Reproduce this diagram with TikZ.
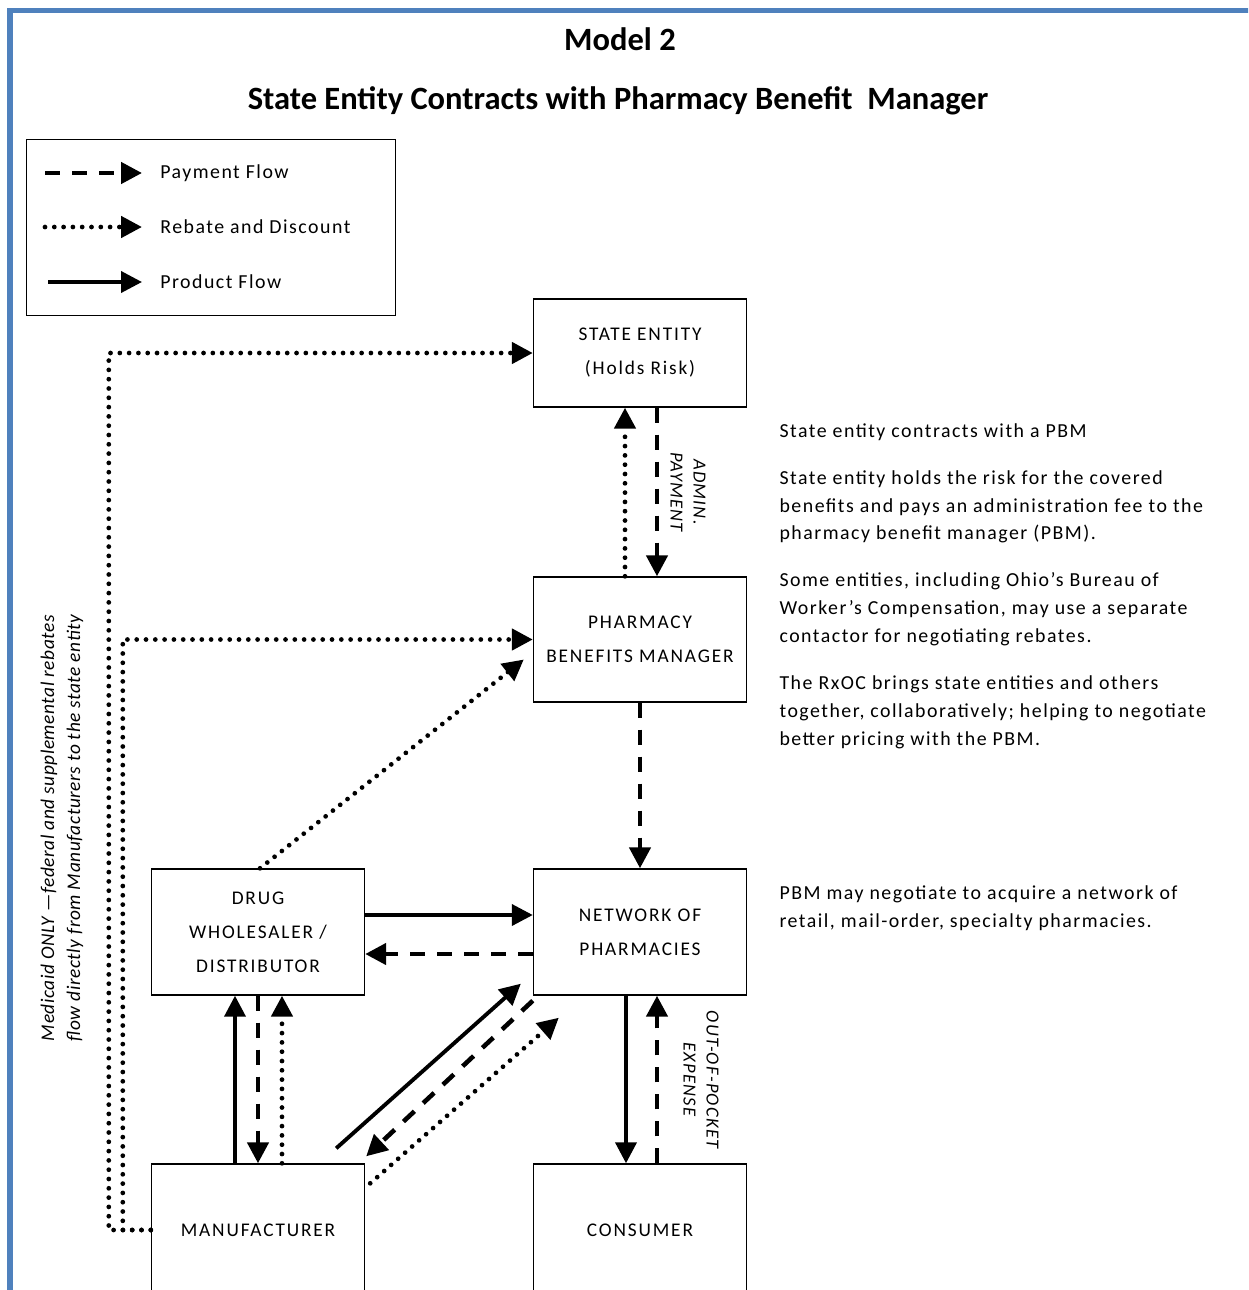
\documentclass[tikz,border=0pt]{standalone}
\usepackage{fontspec}
\setmainfont{Carlito}
\newfontfamily\notefont[LetterSpace=7.5]{Carlito}
\newfontfamily\boxfont[LetterSpace=9.5]{Carlito}
\newfontfamily\sidefont[LetterSpace=3]{Carlito}
\newfontfamily\flowfont[LetterSpace=7]{Carlito}
\usetikzlibrary{arrows.meta}
\definecolor{frameblue}{HTML}{4F81BD}

\tikzset{box/.style={draw, line width=0.8pt, minimum width=4.26cm, align=center, inner sep=1mm, font=\boxfont\fontsize{11}{19.3}\selectfont},
    note/.style={align=left, inner sep=0, font=\notefont\fontsize{11.3}{15.9}\selectfont},
    flowlabel/.style={align=center, inner sep=0, font=\flowfont\itshape\fontsize{10.5}{13}\selectfont},
    pay/.style={line width=2.6pt, dash pattern=on 0.3cm off 0.24cm, -{Triangle[length=0.42cm, width=0.42cm]}},
    rebate/.style={line width=2.7pt, line cap=round, dash pattern=on 0pt off 0.186cm, -{Triangle[length=0.42cm, width=0.42cm]}},
    product/.style={line width=2.2pt, -{Triangle[length=0.42cm, width=0.42cm]}}}

\begin{document}
\begin{tikzpicture}[]
    \clip (0,0) rectangle (24.96,-25.8);
    \draw[frameblue, line width=0.1cm] (0.2,-26) -- (0.2,-0.2) -- (25.2,-0.2);

    \node[font=\bfseries\fontsize{18.5}{22}\selectfont] (title) at (12.4,-0.78) {Model 2};
    \node[font=\bfseries\fontsize{18.5}{22}\selectfont] (subtitle) at (12.36,-2.02) {State Entity Contracts with Pharmacy Benefit\ \ Manager};

    \node[draw, line width=0.8pt, minimum width=7.38cm, minimum height=3.52cm, anchor=north west] (legend) at (0.52,-2.78) {};
    \node[note, anchor=west] (lpay) at ([xshift=2.68cm, yshift=-0.68cm] legend.north west) {Payment Flow};
    \node[note, anchor=west] (lrebate) at ([yshift=-1.08cm] lpay.west) {Rebate and Discount};
    \node[note, anchor=west] (lproduct) at ([yshift=-1.1cm] lrebate.west) {Product Flow};
    \draw[pay] ([xshift=-2.3cm]lpay.west) -- ([xshift=-0.36cm]lpay.west);
    \draw[rebate] ([xshift=-2.3cm]lrebate.west) -- ([xshift=-0.36cm]lrebate.west);
    \draw[product] ([xshift=-2.24cm]lproduct.west) -- ([xshift=-0.36cm]lproduct.west);

    \node[box, minimum height=2.16cm] (state) at (12.8,-7.06) {STATE ENTITY\\(Holds Risk)};
    \node[box, minimum height=2.5cm] (pbm) at ([yshift=-5.73cm] state) {PHARMACY\\BENEFITS MANAGER};
    \node[box, minimum height=2.52cm] (network) at ([yshift=-5.85cm] pbm) {NETWORK OF\\PHARMACIES};
    \node[box, minimum height=2.52cm] (wholesaler) at ([xshift=-7.64cm] network) {DRUG\\WHOLESALER /\\DISTRIBUTOR};
    \node[box, minimum height=2.64cm] (maker) at ([yshift=-5.96cm] wholesaler) {MANUFACTURER};
    \node[box, minimum height=2.64cm] (consumer) at ([yshift=-5.96cm] network) {CONSUMER};

    \node[note, anchor=north west] (notes) at ([xshift=0.64cm, yshift=-1.4cm] state.east) {State entity contracts with a PBM\\[10.8pt]
        State entity holds the risk for the covered\\ benefits and pays an administration fee to the\\ pharmacy benefit manager (PBM).\\[10.8pt]
        Some entities, including Ohio’s Bureau of\\ Worker’s Compensation, may use a separate\\ contactor for negotiating rebates.\\[10.8pt]
        The RxOC brings state entities and others\\ together, collaboratively; helping to negotiate\\ better pricing with the PBM.};
    \node[note, anchor=north west] (pbmnote) at ([xshift=0.64cm, yshift=0.94cm] network.east) {PBM may negotiate to acquire a network of\\ retail, mail-order, specialty pharmacies.};

    \node[flowlabel, rotate=90, font=\sidefont\itshape\fontsize{11}{14.7}\selectfont] (medicaid) at ([xshift=-3.92cm, yshift=2.08cm] wholesaler) {Medicaid ONLY —federal and supplemental rebates\\ flow directly from Manufacturers to the state entity};

    \draw[rebate] ([xshift=-0.3cm]pbm.north) -- ([xshift=-0.3cm]state.south);
    \draw[pay] ([xshift=0.34cm]state.south) -- ([xshift=0.34cm]pbm.north) node[flowlabel, midway, xshift=0.62cm, rotate=-90] {ADMIN.\\PAYMENT};
    \draw[pay] (pbm) -- (network);

    \draw[product] ([yshift=0.34cm]wholesaler.east) -- ([yshift=0.34cm]network.west);
    \draw[pay] ([yshift=-0.44cm]network.west) -- ([yshift=-0.44cm]wholesaler.east);

    \draw[product] ([xshift=-0.28cm]network.south) -- ([xshift=-0.28cm]consumer.north);
    \draw[pay] ([xshift=0.34cm]consumer.north) -- ([xshift=0.34cm]network.south) node[flowlabel, midway, xshift=0.88cm, rotate=-90] {OUT-OF-POCKET\\EXPENSE};

    \draw[product] ([xshift=-0.46cm]maker.north) -- ([xshift=-0.46cm]wholesaler.south);
    \draw[pay] (wholesaler) -- (maker);
    \draw[rebate] ([xshift=0.48cm]maker.north) -- ([xshift=0.48cm]wholesaler.south);

    \draw[product] ([xshift=-0.58cm, yshift=0.3cm]maker.north east) -- ([xshift=-0.24cm, yshift=0.24cm]network.south west);
    \draw[pay] ([yshift=-0.1cm]network.south west) -- ([xshift=0.02cm, yshift=0.14cm]maker.north east);
    \draw[rebate] ([xshift=0.1cm, yshift=-0.4cm]maker.north east) -- ([xshift=0.52cm, yshift=-0.44cm]network.south west);

    \draw[rebate] ([xshift=0.04cm]wholesaler.north) -- ([xshift=-0.18cm, yshift=-0.4cm]pbm.west);
    \draw[rebate] (maker.west) -- ++(-0.84,0) |- (state.west);
    \draw[rebate] (maker.west) -- ++(-0.56,0) |- (pbm.west);

\end{tikzpicture}
\end{document}
